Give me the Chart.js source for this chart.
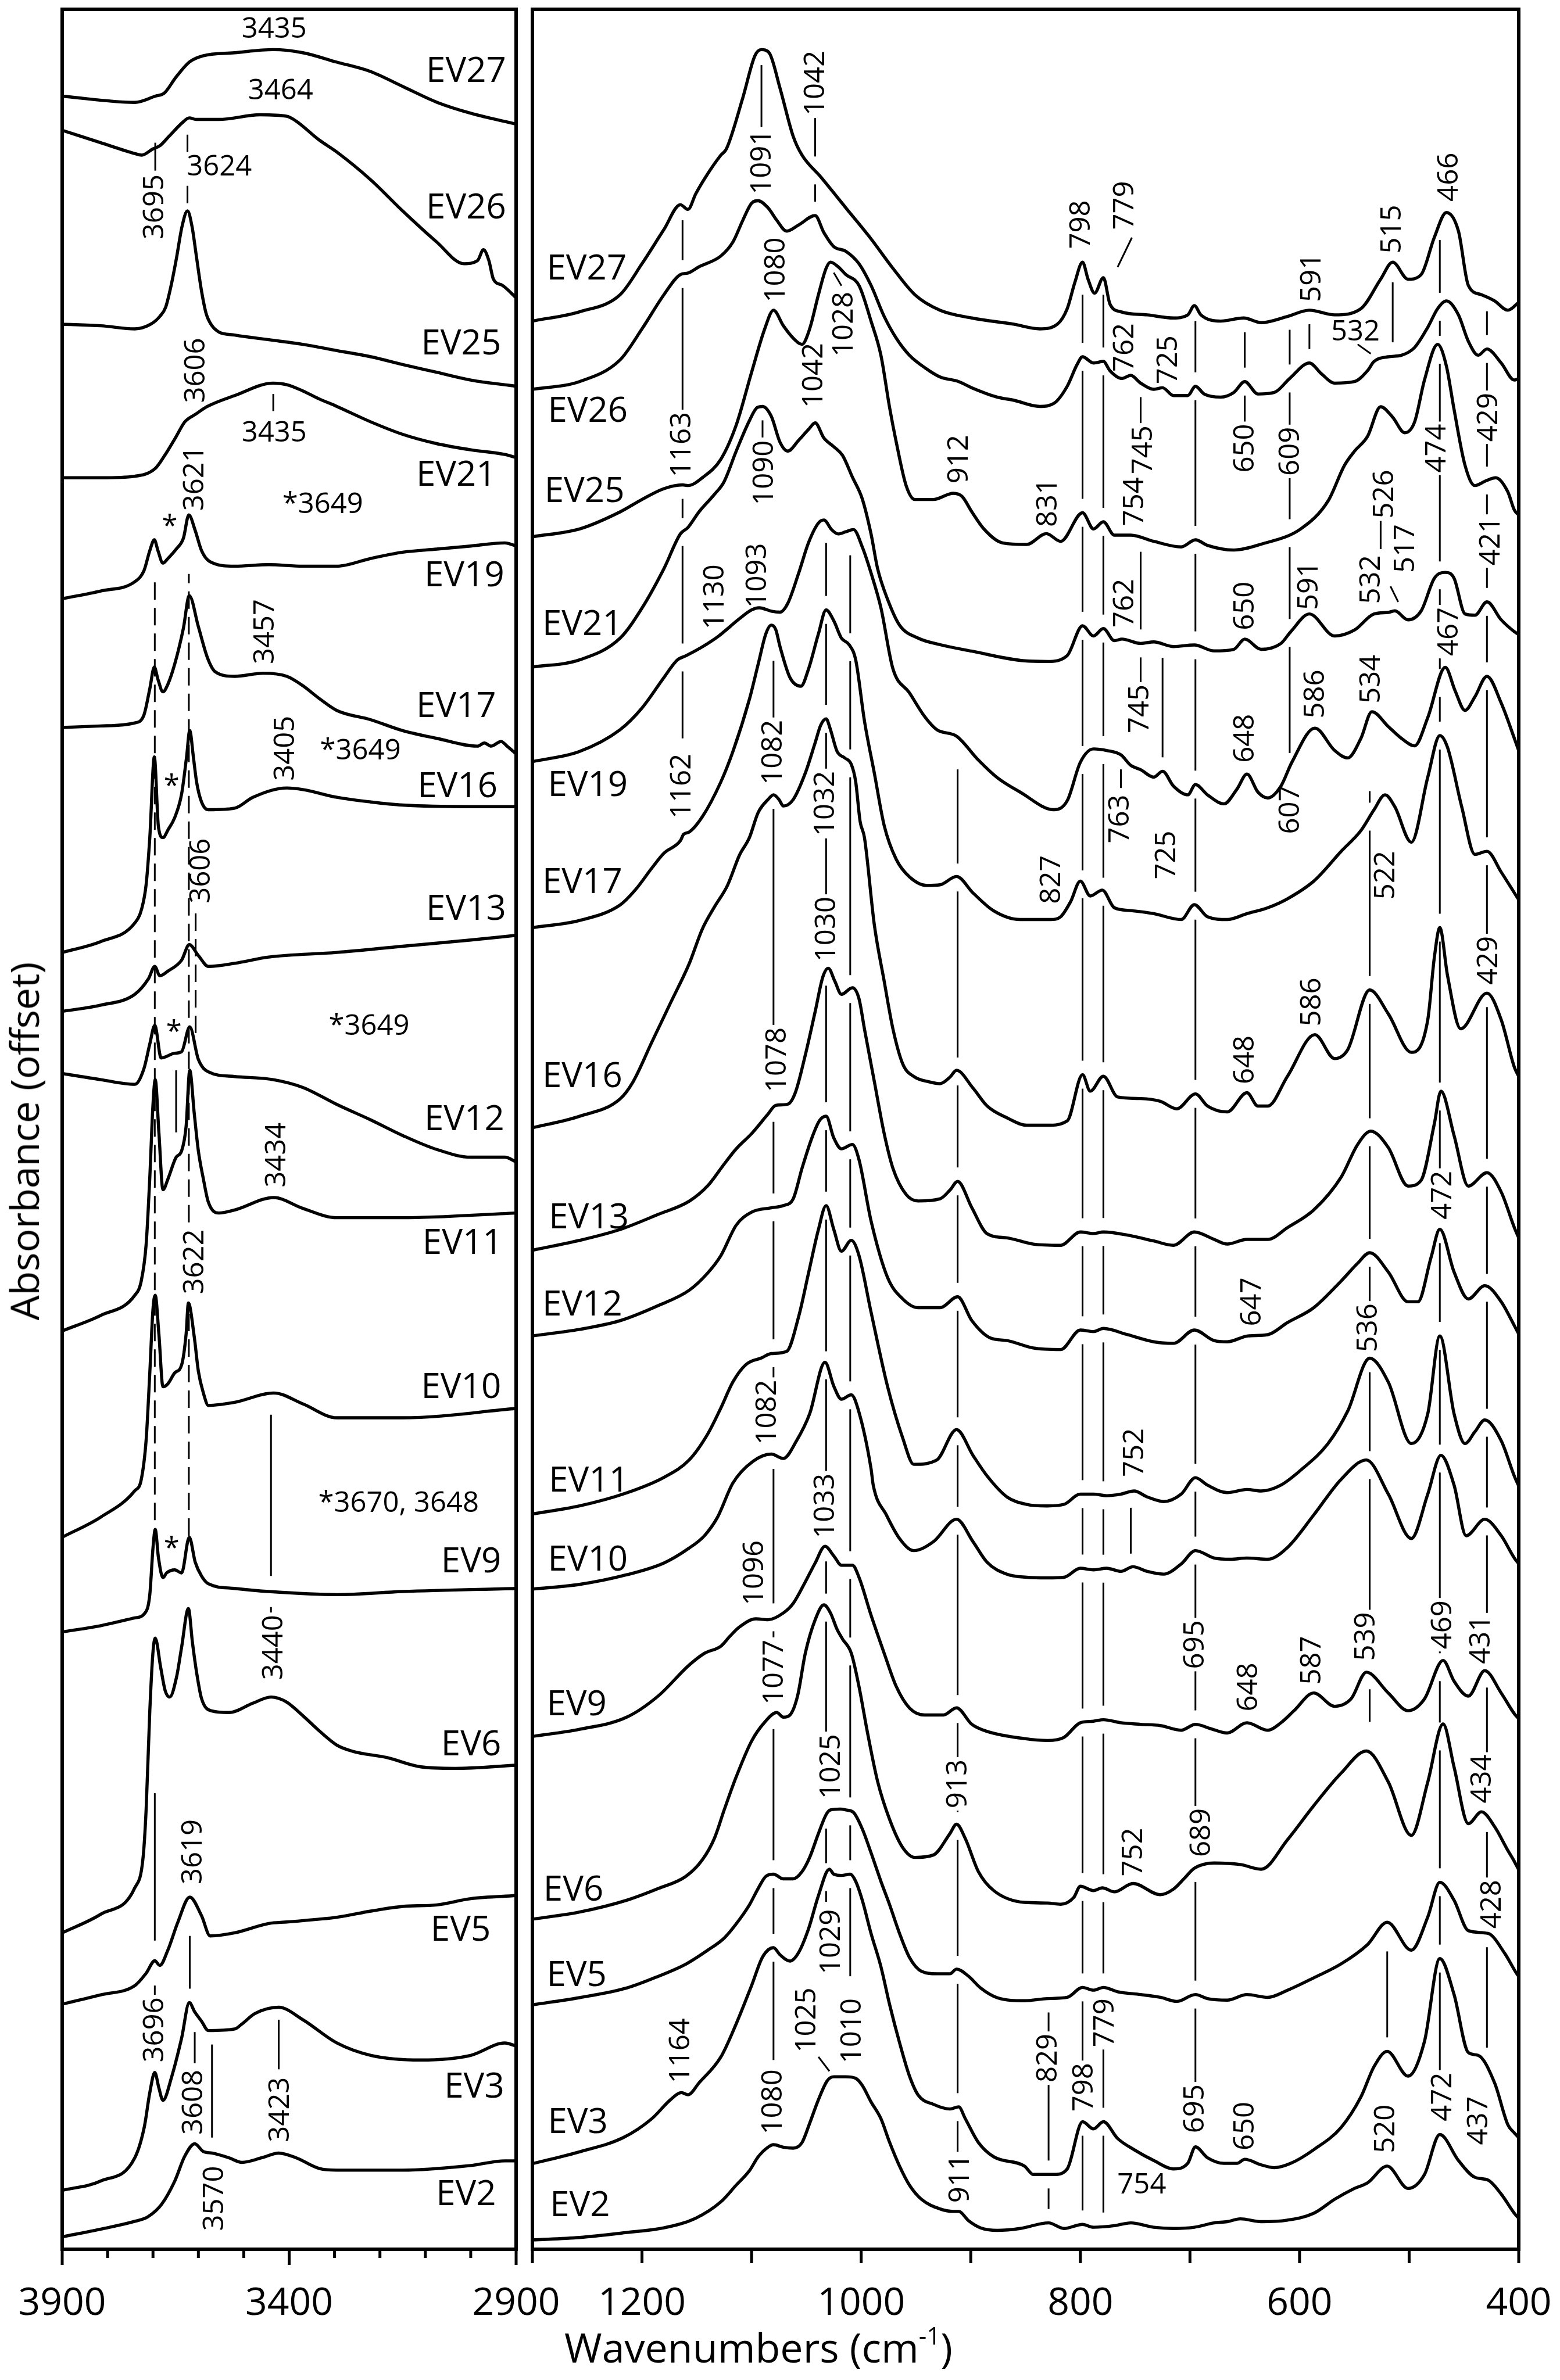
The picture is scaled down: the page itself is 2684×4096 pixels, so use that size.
<!DOCTYPE html>
<html>
<head>
<meta charset="utf-8">
<script src="https://cdn.jsdelivr.net/npm/chart.js@4.4.1/dist/chart.umd.min.js"></script>
<style>
  html, body { margin: 0; padding: 0; background: #fff; }
  #page { position: relative; width: 2684px; height: 4096px; overflow: hidden; background: #fff; }
  #page canvas { position: absolute; left: 0; top: 0; }
  .title { position: absolute; font-family: 'Open Sans', sans-serif; color: #000; white-space: nowrap; line-height: 1; }
  #ytitle { left: 41px; top: 1964px; font-size: 68px; transform: translate(-50%, -50%) rotate(-90deg); }
  #xtitle { left: 1305px; top: 4039px; font-size: 70px; transform: translate(-50%, -50%); }
  #xtitle sup { font-size: 0.6em; position: relative; top: -0.15em; vertical-align: super; line-height: 0; }
</style>
</head>
<body>
<div id="page">
  <canvas id="ohChart" width="2684" height="4096"></canvas>
  <canvas id="fpChart" width="2684" height="4096"></canvas>
  <div class="title" id="ytitle">Absorbance (offset)</div>
  <div class="title" id="xtitle">Wavenumbers (cm<sup>-1</sup>)</div>
</div>
<script>
// ---------- samples, top to bottom ----------
const samples = ['EV27','EV26','EV25','EV21','EV19','EV17','EV16','EV13','EV12','EV11','EV10','EV9','EV6','EV5','EV3','EV2'];

// ---------- OH-stretching region, 3900-2900 cm-1: [wavenumber, absorbance + offset] ----------
const EV27_oh = [[3900,6.94],[3740,6.92],[3695,6.94],[3675,6.95],[3650,7.00],[3620,7.05],[3590,7.07],[3520,7.08],[3435,7.09],[3370,7.08],[3296,7.05],[3222,7.02],[3148,6.97],[3074,6.92],[3000,6.885],[2900,6.85]];
const EV26_oh = [[3900,6.83],[3815,6.79],[3740,6.755],[3725,6.75],[3700,6.77],[3685,6.78],[3665,6.81],[3635,6.855],[3620,6.87],[3605,6.865],[3555,6.865],[3464,6.88],[3405,6.875],[3385,6.86],[3335,6.80],[3295,6.76],[3220,6.67],[3150,6.57],[3075,6.47],[3015,6.40],[2985,6.41],[2972,6.445],[2960,6.41],[2950,6.35],[2930,6.33],[2900,6.29]];
const EV25_oh = [[3900,6.205],[3815,6.20],[3740,6.19],[3705,6.205],[3685,6.23],[3672,6.26],[3660,6.33],[3648,6.42],[3636,6.52],[3624,6.57],[3614,6.52],[3604,6.42],[3594,6.32],[3583,6.24],[3570,6.20],[3555,6.18],[3520,6.17],[3445,6.155],[3370,6.14],[3295,6.12],[3220,6.10],[3150,6.075],[3075,6.05],[3000,6.025],[2900,6.005]];
const EV21_oh = [[3900,5.71],[3815,5.71],[3740,5.715],[3695,5.74],[3675,5.78],[3650,5.84],[3630,5.89],[3606,5.915],[3580,5.94],[3520,5.975],[3435,6.015],[3405,6.01],[3370,5.99],[3335,5.965],[3295,5.94],[3220,5.89],[3150,5.85],[3075,5.82],[3000,5.80],[2925,5.785],[2900,5.775]];
const EV19_oh = [[3900,5.32],[3815,5.345],[3740,5.375],[3720,5.41],[3707,5.475],[3697,5.51],[3689,5.475],[3678,5.435],[3667,5.45],[3649,5.48],[3633,5.515],[3621,5.59],[3607,5.54],[3593,5.475],[3575,5.44],[3520,5.425],[3445,5.43],[3370,5.425],[3295,5.425],[3220,5.45],[3150,5.47],[3075,5.48],[3000,5.49],[2925,5.50],[2900,5.49]];
const EV17_oh = [[3900,4.905],[3815,4.91],[3740,4.92],[3720,4.945],[3707,5.03],[3697,5.10],[3689,5.06],[3678,5.02],[3667,5.045],[3652,5.11],[3633,5.225],[3620,5.33],[3600,5.23],[3580,5.13],[3563,5.085],[3520,5.07],[3457,5.08],[3405,5.07],[3370,5.04],[3335,5.00],[3295,4.96],[3220,4.93],[3150,4.895],[3075,4.87],[2985,4.845],[2970,4.855],[2955,4.845],[2933,4.86],[2920,4.845],[2900,4.82]];
const EV16_oh = [[3900,4.18],[3815,4.215],[3740,4.275],[3725,4.32],[3715,4.40],[3707,4.55],[3697,4.81],[3688,4.585],[3678,4.55],[3667,4.575],[3652,4.615],[3637,4.69],[3626,4.81],[3619,4.895],[3611,4.81],[3604,4.73],[3593,4.665],[3578,4.64],[3520,4.645],[3480,4.68],[3405,4.71],[3370,4.705],[3295,4.68],[3220,4.665],[3150,4.655],[3000,4.65],[2900,4.65]];
const EV13_oh = [[3900,3.99],[3815,4.01],[3740,4.045],[3710,4.095],[3696,4.135],[3685,4.105],[3667,4.12],[3637,4.155],[3620,4.205],[3600,4.17],[3578,4.135],[3520,4.145],[3445,4.165],[3295,4.18],[3150,4.20],[3000,4.22],[2900,4.235]];
const EV12_oh = [[3900,3.79],[3815,3.77],[3740,3.755],[3720,3.805],[3707,3.885],[3696,3.945],[3682,3.84],[3652,3.855],[3637,3.86],[3619,3.94],[3600,3.835],[3578,3.795],[3520,3.78],[3435,3.77],[3370,3.745],[3295,3.69],[3220,3.64],[3150,3.59],[3075,3.545],[3000,3.52],[2925,3.52],[2900,3.505]];
const EV11_oh = [[3900,2.96],[3815,3.01],[3740,3.075],[3726,3.12],[3715,3.24],[3707,3.455],[3700,3.69],[3695,3.77],[3687,3.60],[3678,3.415],[3667,3.45],[3649,3.52],[3637,3.54],[3627,3.62],[3619,3.80],[3609,3.66],[3600,3.54],[3589,3.45],[3578,3.375],[3555,3.34],[3520,3.35],[3434,3.39],[3370,3.355],[3295,3.325],[3150,3.325],[2900,3.34]];
const EV10_oh = [[3900,2.295],[3815,2.36],[3740,2.445],[3726,2.48],[3715,2.61],[3707,2.825],[3700,3.03],[3695,3.075],[3687,2.95],[3678,2.78],[3667,2.79],[3652,2.825],[3637,2.85],[3627,2.95],[3622,3.05],[3609,2.94],[3600,2.83],[3589,2.76],[3578,2.72],[3520,2.73],[3434,2.76],[3370,2.725],[3295,2.68],[3150,2.68],[2900,2.71]];
const EV9_oh  = [[3900,1.99],[3815,2.01],[3740,2.035],[3718,2.05],[3707,2.11],[3700,2.26],[3695,2.32],[3688,2.23],[3678,2.165],[3670,2.18],[3652,2.19],[3637,2.18],[3620,2.295],[3607,2.215],[3593,2.17],[3578,2.145],[3520,2.13],[3445,2.12],[3295,2.11],[3150,2.12],[2900,2.13]];
const EV6_oh  = [[3900,1.02],[3815,1.08],[3740,1.165],[3722,1.26],[3715,1.42],[3707,1.735],[3700,1.925],[3695,1.97],[3683,1.875],[3673,1.80],[3663,1.78],[3648,1.845],[3637,1.94],[3622,2.065],[3613,1.955],[3604,1.86],[3593,1.775],[3570,1.735],[3533,1.73],[3480,1.76],[3440,1.78],[3407,1.765],[3370,1.72],[3333,1.67],[3295,1.625],[3260,1.605],[3185,1.585],[3110,1.555],[3035,1.55],[2900,1.56]];
const EV5_oh  = [[3900,0.79],[3815,0.82],[3740,0.85],[3715,0.89],[3696,0.93],[3685,0.915],[3667,0.965],[3645,1.055],[3619,1.135],[3593,1.075],[3574,1.01],[3520,1.02],[3445,1.05],[3405,1.055],[3295,1.07],[3220,1.09],[3150,1.105],[3075,1.11],[3000,1.13],[2900,1.14]];
const EV3_oh  = [[3900,0.19],[3815,0.22],[3740,0.295],[3719,0.395],[3707,0.505],[3696,0.57],[3687,0.52],[3678,0.48],[3659,0.555],[3637,0.68],[3620,0.795],[3608,0.765],[3593,0.735],[3578,0.705],[3520,0.71],[3505,0.725],[3475,0.76],[3423,0.78],[3370,0.74],[3295,0.665],[3220,0.625],[3110,0.61],[3000,0.625],[2925,0.665],[2900,0.655]];
const EV2_oh  = [[3900,0.04],[3815,0.065],[3740,0.09],[3711,0.105],[3681,0.145],[3652,0.22],[3630,0.30],[3608,0.34],[3589,0.315],[3570,0.31],[3533,0.295],[3504,0.28],[3460,0.295],[3423,0.31],[3385,0.295],[3333,0.26],[3295,0.255],[3150,0.255],[3000,0.27],[2925,0.285],[2900,0.285]];

// ---------- lattice / fingerprint region, 1300-400 cm-1 ----------
const EV27_fp = [[1300,6.215],[1257,6.245],[1220,6.30],[1200,6.40],[1180,6.51],[1165,6.59],[1158,6.575],[1151,6.625],[1140,6.69],[1128,6.75],[1123,6.77],[1108,6.935],[1097,7.07],[1091,7.09],[1084,7.08],[1074,6.965],[1062,6.81],[1054,6.75],[1037,6.68],[1014,6.58],[991,6.48],[971,6.385],[951,6.30],[928,6.25],[899,6.225],[861,6.205],[837,6.19],[821,6.205],[812,6.255],[805,6.34],[798,6.405],[793,6.35],[787,6.305],[779,6.355],[773,6.27],[763,6.245],[739,6.235],[715,6.225],[702,6.235],[696,6.265],[690,6.235],[672,6.215],[651,6.225],[635,6.21],[611,6.23],[591,6.25],[568,6.235],[544,6.255],[526,6.35],[515,6.405],[501,6.35],[489,6.365],[477,6.485],[466,6.565],[455,6.505],[446,6.33],[434,6.30],[422,6.28],[410,6.25],[400,6.275]];
const EV26_fp = [[1300,5.995],[1257,6.02],[1220,6.09],[1200,6.19],[1180,6.30],[1165,6.365],[1158,6.37],[1148,6.39],[1128,6.425],[1117,6.47],[1108,6.54],[1100,6.595],[1094,6.603],[1085,6.58],[1077,6.54],[1068,6.505],[1057,6.525],[1042,6.555],[1034,6.50],[1025,6.455],[1014,6.44],[1002,6.40],[991,6.33],[979,6.23],[968,6.16],[956,6.105],[942,6.065],[928,6.035],[911,6.02],[899,6.0],[876,5.97],[861,5.96],[837,5.94],[824,5.95],[812,6.005],[803,6.075],[798,6.10],[788,6.08],[779,6.085],[773,6.055],[762,6.03],[754,6.04],[745,6.015],[733,5.995],[725,6.0],[715,5.975],[702,5.975],[695,6.005],[687,5.98],[672,5.97],[660,5.985],[650,6.02],[638,5.98],[623,5.985],[609,6.03],[591,6.08],[580,6.045],[568,6.015],[550,6.02],[538,6.055],[532,6.085],[519,6.10],[507,6.105],[495,6.13],[483,6.195],[474,6.255],[466,6.28],[455,6.235],[446,6.15],[437,6.105],[429,6.125],[416,6.08],[404,6.025],[400,6.03]];
const EV25_fp = [[1300,5.52],[1257,5.545],[1220,5.60],[1200,5.64],[1180,5.675],[1163,5.687],[1158,5.685],[1145,5.71],[1128,5.77],[1114,5.88],[1100,6.05],[1088,6.19],[1080,6.25],[1071,6.20],[1062,6.16],[1054,6.14],[1047,6.19],[1039,6.30],[1032,6.385],[1028,6.405],[1021,6.39],[1014,6.365],[1002,6.33],[991,6.215],[982,6.105],[974,5.935],[968,5.825],[959,5.685],[951,5.64],[934,5.64],[916,5.66],[908,5.65],[899,5.60],[888,5.545],[871,5.50],[849,5.495],[831,5.53],[818,5.505],[798,5.597],[788,5.545],[779,5.568],[769,5.525],[754,5.525],[733,5.505],[708,5.487],[695,5.51],[684,5.492],[660,5.477],[635,5.496],[599,5.545],[574,5.635],[559,5.75],[550,5.795],[538,5.843],[526,5.939],[515,5.905],[504,5.855],[495,5.89],[486,6.025],[474,6.14],[466,6.07],[459,5.93],[449,5.75],[440,5.685],[430,5.70],[421,5.71],[410,5.665],[404,5.606],[400,5.59]];
const EV21_fp = [[1300,5.10],[1257,5.123],[1220,5.193],[1200,5.29],[1180,5.417],[1165,5.529],[1158,5.55],[1148,5.60],[1134,5.656],[1125,5.698],[1114,5.796],[1102,5.894],[1095,5.936],[1090,5.94],[1082,5.908],[1074,5.824],[1067,5.796],[1057,5.831],[1048,5.866],[1042,5.887],[1034,5.838],[1025,5.81],[1017,5.782],[1008,5.712],[999,5.642],[991,5.529],[985,5.417],[976,5.319],[965,5.235],[948,5.193],[928,5.172],[899,5.151],[851,5.12],[830,5.118],[812,5.137],[798,5.233],[788,5.20],[779,5.224],[769,5.185],[762,5.19],[745,5.176],[733,5.181],[715,5.166],[696,5.171],[678,5.152],[660,5.157],[650,5.19],[635,5.157],[617,5.176],[608,5.214],[591,5.271],[568,5.20],[550,5.219],[532,5.271],[519,5.276],[513,5.281],[501,5.252],[489,5.281],[477,5.386],[467,5.405],[459,5.386],[449,5.271],[440,5.267],[429,5.31],[416,5.252],[404,5.214],[400,5.205]];
const EV19_fp = [[1300,4.795],[1257,4.828],[1220,4.898],[1200,4.968],[1180,5.066],[1168,5.122],[1160,5.136],[1145,5.165],[1130,5.20],[1111,5.256],[1100,5.284],[1093,5.291],[1082,5.28],[1074,5.277],[1067,5.305],[1057,5.403],[1048,5.501],[1039,5.564],[1034,5.574],[1027,5.543],[1021,5.529],[1014,5.536],[1007,5.543],[999,5.487],[991,5.403],[982,5.291],[971,5.094],[956,5.017],[942,4.94],[931,4.898],[913,4.877],[893,4.80],[876,4.744],[855,4.697],[824,4.64],[812,4.669],[800,4.793],[788,4.836],[776,4.831],[763,4.817],[754,4.783],[745,4.769],[733,4.745],[725,4.764],[715,4.716],[702,4.688],[695,4.721],[684,4.688],[669,4.659],[657,4.707],[648,4.755],[638,4.697],[629,4.678],[617,4.716],[607,4.793],[586,4.903],[568,4.831],[556,4.807],[544,4.87],[534,4.956],[519,4.908],[507,4.87],[495,4.846],[483,4.937],[467,5.099],[458,5.023],[449,4.96],[440,5.004],[429,5.07],[416,4.984],[404,4.87],[400,4.83]];
const EV17_fp = [[1300,4.26],[1257,4.283],[1220,4.333],[1206,4.382],[1191,4.452],[1180,4.50],[1165,4.54],[1162,4.561],[1157,4.568],[1145,4.617],[1128,4.73],[1117,4.828],[1102,4.996],[1094,5.109],[1087,5.207],[1082,5.235],[1078,5.221],[1074,5.165],[1065,5.066],[1055,5.038],[1048,5.094],[1039,5.207],[1032,5.284],[1025,5.249],[1018,5.193],[1011,5.172],[1005,5.123],[997,4.926],[988,4.758],[979,4.589],[968,4.48],[956,4.424],[940,4.396],[928,4.398],[913,4.425],[898,4.372],[879,4.314],[855,4.286],[827,4.286],[818,4.295],[809,4.343],[800,4.41],[791,4.362],[780,4.381],[769,4.324],[754,4.315],[733,4.305],[708,4.286],[696,4.334],[684,4.295],[666,4.286],[648,4.305],[629,4.324],[611,4.353],[587,4.41],[562,4.506],[544,4.573],[532,4.64],[522,4.688],[513,4.649],[498,4.535],[483,4.745],[472,4.879],[465,4.841],[452,4.649],[440,4.496],[429,4.506],[416,4.439],[404,4.372],[400,4.35]];
const EV16_fp = [[1300,3.615],[1257,3.652],[1220,3.708],[1208,3.764],[1191,3.891],[1174,4.017],[1157,4.143],[1145,4.255],[1134,4.326],[1122,4.396],[1111,4.494],[1102,4.55],[1094,4.631],[1085,4.673],[1080,4.688],[1075,4.673],[1071,4.652],[1062,4.673],[1051,4.758],[1042,4.856],[1037,4.912],[1032,4.933],[1028,4.898],[1022,4.828],[1015,4.807],[1009,4.786],[1005,4.73],[1001,4.603],[997,4.55],[988,4.269],[979,4.087],[971,3.933],[962,3.82],[951,3.778],[939,3.764],[928,3.757],[919,3.778],[913,3.80],[898,3.743],[885,3.685],[867,3.647],[849,3.623],[830,3.623],[812,3.637],[798,3.786],[791,3.733],[779,3.781],[766,3.714],[745,3.709],[727,3.70],[712,3.676],[695,3.724],[684,3.685],[666,3.666],[648,3.728],[638,3.685],[629,3.685],[611,3.781],[586,3.915],[568,3.838],[556,3.867],[536,4.059],[519,3.982],[498,3.858],[483,3.963],[477,4.164],[472,4.26],[465,4.106],[453,3.934],[429,4.049],[416,3.963],[404,3.81],[400,3.78]];
const EV13_fp = [[1300,3.22],[1257,3.252],[1220,3.287],[1185,3.336],[1157,3.378],[1140,3.428],[1125,3.498],[1114,3.547],[1100,3.596],[1085,3.659],[1078,3.687],[1067,3.691],[1060,3.729],[1051,3.849],[1042,3.989],[1035,4.101],[1030,4.129],[1024,4.087],[1018,4.045],[1008,4.066],[1002,4.031],[997,3.933],[988,3.764],[979,3.596],[971,3.484],[959,3.40],[948,3.379],[928,3.386],[919,3.414],[912,3.442],[899,3.357],[885,3.273],[867,3.26],[843,3.24],[818,3.236],[800,3.279],[788,3.274],[779,3.279],[757,3.269],[733,3.25],[715,3.236],[696,3.279],[678,3.255],[666,3.24],[648,3.255],[629,3.255],[611,3.293],[587,3.35],[562,3.456],[547,3.561],[535,3.604],[519,3.551],[501,3.427],[489,3.446],[477,3.628],[471,3.733],[459,3.59],[446,3.427],[429,3.47],[416,3.408],[404,3.293],[400,3.26]];
const EV12_fp = [[1300,2.944],[1257,2.965],[1220,2.993],[1185,3.042],[1157,3.091],[1140,3.147],[1128,3.203],[1114,3.301],[1100,3.343],[1082,3.357],[1071,3.364],[1062,3.386],[1054,3.484],[1045,3.582],[1038,3.638],[1032,3.652],[1025,3.582],[1018,3.547],[1008,3.561],[1002,3.512],[991,3.315],[976,3.133],[962,3.063],[948,3.035],[928,3.035],[912,3.07],[899,2.993],[882,2.937],[867,2.929],[843,2.905],[818,2.90],[800,2.963],[788,2.958],[779,2.968],[757,2.948],[733,2.925],[715,2.92],[696,2.963],[678,2.929],[666,2.925],[647,2.944],[629,2.948],[611,2.987],[587,3.035],[562,3.121],[547,3.178],[536,3.212],[519,3.15],[501,3.054],[492,3.054],[480,3.197],[472,3.288],[459,3.15],[446,3.063],[431,3.106],[416,3.054],[404,2.977],[400,2.95]];
const EV11_fp = [[1300,2.37],[1257,2.396],[1214,2.438],[1180,2.488],[1157,2.544],[1140,2.628],[1128,2.712],[1117,2.796],[1105,2.852],[1091,2.873],[1082,2.887],[1068,2.894],[1057,3.007],[1048,3.147],[1039,3.287],[1032,3.364],[1025,3.287],[1018,3.217],[1009,3.252],[1002,3.203],[991,3.021],[976,2.782],[962,2.614],[952,2.53],[931,2.544],[913,2.642],[898,2.559],[885,2.492],[867,2.425],[849,2.401],[830,2.396],[815,2.401],[800,2.434],[788,2.434],[776,2.429],[763,2.434],[751,2.444],[739,2.425],[724,2.41],[708,2.434],[695,2.487],[684,2.463],[666,2.439],[648,2.449],[635,2.444],[617,2.463],[599,2.511],[574,2.597],[556,2.702],[536,2.872],[519,2.795],[498,2.597],[483,2.693],[472,2.944],[459,2.693],[449,2.597],[440,2.635],[431,2.673],[416,2.606],[404,2.492],[400,2.46]];
const EV10_fp = [[1300,2.128],[1257,2.143],[1214,2.174],[1180,2.212],[1157,2.26],[1143,2.30],[1131,2.36],[1117,2.47],[1099,2.539],[1082,2.563],[1071,2.549],[1059,2.606],[1047,2.693],[1033,2.859],[1025,2.782],[1018,2.74],[1009,2.754],[1002,2.698],[991,2.516],[989,2.463],[977,2.367],[965,2.291],[952,2.252],[934,2.281],[913,2.353],[898,2.281],[885,2.214],[867,2.176],[849,2.166],[830,2.164],[815,2.166],[800,2.195],[788,2.19],[776,2.195],[763,2.185],[752,2.20],[739,2.185],[724,2.176],[708,2.209],[695,2.252],[678,2.228],[663,2.224],[648,2.228],[629,2.224],[611,2.262],[587,2.367],[562,2.482],[539,2.544],[519,2.434],[498,2.291],[483,2.434],[471,2.559],[459,2.463],[448,2.30],[431,2.353],[416,2.30],[404,2.228],[400,2.21]];
const EV9_fp  = [[1300,1.653],[1257,1.676],[1214,1.715],[1185,1.784],[1157,1.883],[1143,1.921],[1128,1.944],[1120,1.975],[1111,2.006],[1096,2.032],[1085,2.029],[1071,2.051],[1062,2.082],[1051,2.151],[1042,2.212],[1033,2.266],[1025,2.235],[1018,2.205],[1008,2.205],[1002,2.166],[991,2.044],[979,1.921],[968,1.814],[956,1.745],[942,1.722],[925,1.722],[913,1.745],[899,1.692],[885,1.669],[851,1.646],[830,1.64],[815,1.65],[800,1.697],[788,1.702],[779,1.707],[763,1.697],[745,1.692],[727,1.688],[708,1.673],[695,1.692],[681,1.678],[666,1.664],[648,1.697],[629,1.673],[617,1.697],[605,1.736],[587,1.793],[568,1.75],[553,1.774],[539,1.86],[519,1.793],[501,1.736],[486,1.774],[469,1.898],[459,1.831],[446,1.783],[431,1.865],[416,1.793],[404,1.726],[400,1.71]];
const EV6_fp  = [[1300,1.064],[1257,1.087],[1214,1.125],[1185,1.163],[1160,1.202],[1145,1.255],[1134,1.324],[1125,1.416],[1114,1.523],[1100,1.638],[1088,1.699],[1077,1.73],[1071,1.715],[1065,1.722],[1058,1.784],[1051,1.921],[1042,2.029],[1034,2.077],[1028,2.051],[1022,1.998],[1017,1.967],[1009,1.921],[1002,1.814],[994,1.661],[985,1.508],[974,1.385],[962,1.294],[951,1.263],[934,1.271],[919,1.34],[913,1.37],[905,1.324],[893,1.217],[879,1.156],[851,1.118],[830,1.116],[818,1.112],[806,1.134],[800,1.17],[788,1.156],[780,1.165],[769,1.152],[752,1.179],[727,1.143],[715,1.161],[705,1.196],[696,1.228],[678,1.245],[654,1.24],[635,1.225],[611,1.32],[587,1.43],[562,1.535],[539,1.606],[519,1.506],[498,1.334],[483,1.506],[469,1.693],[459,1.554],[446,1.372],[434,1.41],[422,1.362],[410,1.286],[404,1.25],[400,1.223]];
const EV5_fp  = [[1300,0.788],[1257,0.811],[1214,0.842],[1185,0.88],[1160,0.919],[1140,0.964],[1125,1.003],[1114,1.049],[1102,1.11],[1094,1.163],[1087,1.202],[1080,1.209],[1071,1.194],[1062,1.194],[1054,1.217],[1047,1.263],[1039,1.34],[1032,1.401],[1028,1.416],[1019,1.419],[1014,1.416],[1007,1.408],[999,1.355],[991,1.278],[982,1.186],[974,1.11],[965,1.018],[956,0.941],[945,0.896],[931,0.888],[919,0.888],[913,0.903],[902,0.88],[891,0.842],[876,0.811],[851,0.801],[830,0.808],[812,0.812],[798,0.844],[788,0.835],[779,0.844],[766,0.83],[745,0.821],[727,0.812],[712,0.799],[695,0.821],[684,0.808],[666,0.803],[648,0.821],[629,0.812],[611,0.835],[587,0.875],[562,0.92],[538,0.982],[520,1.054],[498,0.964],[483,1.071],[472,1.183],[459,1.125],[446,1.027],[428,1.018],[413,0.955],[401,0.884],[400,0.88]];
const EV3_fp  = [[1300,0.276],[1257,0.314],[1217,0.36],[1191,0.421],[1174,0.482],[1164,0.505],[1158,0.498],[1148,0.536],[1128,0.62],[1114,0.727],[1100,0.85],[1090,0.942],[1080,0.972],[1074,0.949],[1065,0.929],[1057,0.957],[1048,1.033],[1039,1.14],[1029,1.225],[1025,1.209],[1018,1.205],[1010,1.209],[1005,1.186],[999,1.125],[991,1.018],[982,0.911],[974,0.788],[965,0.666],[956,0.559],[948,0.497],[934,0.467],[919,0.452],[911,0.459],[905,0.421],[893,0.344],[879,0.298],[851,0.268],[843,0.241],[824,0.241],[812,0.259],[798,0.411],[788,0.388],[779,0.411],[766,0.357],[751,0.321],[733,0.286],[715,0.259],[702,0.277],[695,0.33],[684,0.295],[669,0.277],[657,0.277],[650,0.29],[635,0.272],[623,0.263],[608,0.277],[587,0.321],[562,0.393],[544,0.491],[532,0.589],[520,0.638],[501,0.558],[486,0.67],[472,0.937],[459,0.821],[446,0.634],[437,0.625],[422,0.536],[410,0.402],[404,0.375],[400,0.36]];
const EV2_fp  = [[1300,0.03],[1257,0.038],[1214,0.054],[1180,0.069],[1151,0.10],[1128,0.153],[1114,0.207],[1102,0.253],[1094,0.298],[1085,0.329],[1080,0.337],[1071,0.329],[1062,0.326],[1054,0.344],[1047,0.406],[1039,0.482],[1031,0.543],[1025,0.556],[1014,0.556],[1005,0.551],[999,0.528],[991,0.475],[982,0.421],[974,0.344],[965,0.268],[956,0.207],[945,0.161],[928,0.13],[916,0.122],[911,0.122],[902,0.092],[891,0.069],[876,0.061],[855,0.067],[829,0.085],[815,0.067],[798,0.08],[788,0.071],[769,0.076],[754,0.085],[733,0.071],[715,0.067],[696,0.071],[678,0.085],[666,0.089],[654,0.098],[635,0.089],[611,0.094],[587,0.116],[568,0.161],[550,0.196],[538,0.214],[520,0.268],[501,0.196],[486,0.241],[472,0.37],[455,0.286],[440,0.232],[428,0.223],[416,0.178],[404,0.116],[400,0.10]];

// ---------- axes ----------
const ohRange = [2900, 3900];
const fpRange = [400, 1300];
const absRange = [0, 7.22];
const ohTicks = [3900, 3800, 3700, 3600, 3500, 3400, 3300, 3200, 3100, 3000, 2900];
const ohMajorTicks = [3900, 3400, 2900];
const ohTickLabels = [3900, 3400, 2900];
const fpTicks = [1300, 1200, 1100, 1000, 900, 800, 700, 600, 500, 400];
const fpTickLabels = [1200, 1000, 800, 600, 400];

// ---------- sample name anchors [wavenumber, absorbance] ----------
const ohNameAnchors = [[2922,7.018],[2922,6.578],[2933,6.139],[2944,5.716],[2926,5.393],[2944,4.97],[2941,4.713],[2922,4.318],[2926,3.639],[2930,3.241],[2933,2.776],[2933,2.213],[2933,1.624],[2956,1.026],[2926,0.521],[2944,0.175]];
const fpNameAnchors = [[1287,6.382],[1286,5.922],[1289,5.663],[1291,5.235],[1286,4.716],[1291,4.403],[1291,3.778],[1285,3.322],[1291,3.042],[1285,2.474],[1286,2.22],[1287,1.753],[1290,1.156],[1287,0.88],[1286,0.406],[1284,0.138]];

// ---------- band assignments: [text, wavenumber, absorbance, vertical] ----------
const ohBandLabels = [
  ['3435',3433,7.155,0],['3464',3419,6.955,0],['3695',3695,6.583,1],['3624',3554,6.711,0],
  ['3606',3604,6.056,1],['3435',3433,5.852,0],['3621',3607,5.708,1],['*3649',3326,5.622,0],
  ['*',3663,5.55,0],['3457',3452,5.214,1],['3405',3407,4.838,1],['*3649',3243,4.829,0],
  ['*',3659,4.713,0],['3606',3593,4.443,1],['*3649',3224,3.94,0],['*',3654,3.92,0],
  ['3434',3426,3.527,1],['3622',3607,3.183,1],['*3670, 3648',3159,2.403,0],['*',3659,2.254,0],
  ['3440',3433,1.94,1],['3619',3611,1.281,1],['3696',3695,0.707,1],['3608',3609,0.474,1],
  ['3570',3563,0.164,1],['3423',3419,0.45,1]
];
const fpBandLabels = [
  ['1091',1090,6.728,1],['1042',1041,6.982,1],['1080',1077,6.38,1],['1028',1015,6.205,1],
  ['798',799,6.526,1],['779',759,6.588,1],['591',588,6.355,1],['515',515,6.511,1],
  ['466',463,6.679,1],['762',759,6.13,1],['725',719,6.09,1],['532',549,6.178,0],
  ['429',427,5.905,1],['1163',1163,5.817,1],['1090',1088,5.726,1],['1042',1043,6.04,1],
  ['912',910,5.77,1],['745',742,5.80,1],['650',649,5.805,1],['609',608,5.795,1],
  ['474',474,5.805,1],['831',829,5.63,1],['754',750,5.633,1],['526',522,5.657,1],
  ['421',425,5.506,1],['1130',1133,5.326,1],['1093',1094,5.395,1],['762',759,5.306,1],
  ['650',649,5.297,1],['591',591,5.362,1],['532',534,5.382,1],['517',503,5.482,1],
  ['467',463,5.214,1],['745',745,4.965,1],['725',721,4.494,1],['607',608,4.64,1],
  ['763',763,4.61,1],['648',649,4.87,1],['586',585,5.013,1],['534',534,5.061,1],
  ['522',521,4.429,1],['827',826,4.415,1],['1162',1163,4.716,1],['1082',1080,4.825,1],
  ['1032',1032,4.66,1],['648',649,3.834,1],['586',588,4.02,1],['429',427,4.154,1],
  ['1078',1076,3.834,1],['1030',1031,4.255,1],['472',469,3.398,1],['647',643,3.054,1],
  ['536',537,2.97,1],['1082',1085,2.698,1],['1033',1032,2.396,1],['752',750,2.568,1],
  ['1096',1097,2.18,1],['695',695,1.949,1],['539',539,1.975,1],['469',469,2.013,1],
  ['431',434,1.965,1],['587',588,1.898,1],['648',646,1.812,1],['1077',1079,1.86,1],
  ['1025',1027,1.556,1],['913',911,1.50,1],['434',433,1.516,1],['752',751,1.28,1],
  ['689',689,1.343,1],['428',424,1.112,1],['1029',1027,0.991,1],['1025',1049,0.739,1],
  ['1010',1008,0.704,1],['1164',1164,0.64,1],['1080',1080,0.475,1],['829',829,0.616,1],
  ['798',796,0.522,1],['779',777,0.73,1],['695',695,0.453,1],['650',649,0.397,1],
  ['520',521,0.388,1],['472',469,0.491,1],['437',436,0.415,1],['911',909,0.228,1],
  ['754',744,0.205,0]
];

// ---------- marker lines ----------
// OH region: [wavenumber, from, to, dashed]
const ohMarkers = [
  [3695,6.70,6.79,0],[3624,6.595,6.83,1],[3435,5.925,5.98,0],[3696,2.35,5.38,1],
  [3621,3.31,5.40,1],[3621,2.30,3.05,1],[3606,3.92,4.32,1],[3649,3.60,3.80,0],
  [3440,2.17,2.69,0],[3440,2.035,2.07,0],[3696,0.995,1.47,0],[3696,0.82,0.85,0],
  [3619,0.84,1.01,0],[3608,0.60,0.70,0],[3570,0.36,0.66,0],[3423,0.58,0.74,0]
];
// fingerprint region: [wavenumber, upper limit, lower limit], broken wherever a spectrum crosses
const fpMarkers = [
  [1163,6.54,4.87],[1091,7.04,6.84],[1042,6.87,6.57],[1090,5.91,5.84],[1080,5.12,0.61],
  [1032,5.50,1.12],[1010,5.46,0.88],[912,4.77,0.28],[829,0.79,0.10],[798,6.30,0.10],
  [779,6.30,0.10],[754,2.39,2.21],[754,0.16,0.107],[745,5.99,5.05],[725,5.14,4.78],
  [763,4.77,4.71],[695,6.22,0.33],[650,6.19,5.89],[609,6.20,4.79],[591,6.25,6.10],
  [526,5.59,5.48],[515,6.34,6.14],[536,4.70,1.70],[520,0.96,0.67],[472,6.48,0.45],
  [429,6.25,0.65]
];
// short slanted leaders: [wn1, a1, wn2, a2]
const fpLeaders = [[766,6.389,753,6.484],[547,6.14,535,6.11],[1025,6.371,1018,6.329],[1039,0.62,1029,0.574],[517,5.36,510,5.31]];

const ohSpectra = [EV27_oh, EV26_oh, EV25_oh, EV21_oh, EV19_oh, EV17_oh, EV16_oh, EV13_oh, EV12_oh, EV11_oh, EV10_oh, EV9_oh, EV6_oh, EV5_oh, EV3_oh, EV2_oh];
const fpSpectra = [EV27_fp, EV26_fp, EV25_fp, EV21_fp, EV19_fp, EV17_fp, EV16_fp, EV13_fp, EV12_fp, EV11_fp, EV10_fp, EV9_fp, EV6_fp, EV5_fp, EV3_fp, EV2_fp];

// ---------- drawing ----------
const FONT = "'Open Sans', sans-serif";
const BAND_PX = 49, NAME_PX = 60, TICK_PX = 66;
const LINE_W = 5.4, FRAME_W = 6, MARK_W = 3, TICK_W = 5;
const GAP = 0.045;

function valueAt(series, wn) {
  for (let i = 0; i < series.length - 1; i++) {
    const [x1, y1] = series[i], [x2, y2] = series[i + 1];
    if ((wn - x1) * (wn - x2) <= 0 && x1 !== x2) return y1 + (y2 - y1) * (wn - x1) / (x2 - x1);
  }
  return null;
}

function decorPlugin(opt) {
  return {
    id: 'decor',
    beforeDatasetsDraw(chart) {
      const { ctx, chartArea: ca } = chart;
      const X = v => chart.scales.x.getPixelForValue(v);
      const Y = v => chart.scales.y.getPixelForValue(v);
      ctx.save();
      ctx.beginPath();
      ctx.rect(ca.left, ca.top, ca.right - ca.left, ca.bottom - ca.top);
      ctx.clip();
      ctx.strokeStyle = '#000';
      ctx.lineWidth = MARK_W;
      ctx.lineCap = 'butt';
      (opt.markers || []).forEach(([wn, a, b, dashed]) => {
        ctx.setLineDash(dashed ? [30, 14] : []);
        ctx.beginPath(); ctx.moveTo(X(wn), Y(a)); ctx.lineTo(X(wn), Y(b)); ctx.stroke();
      });
      ctx.setLineDash([]);
      (opt.brokenMarkers || []).forEach(([wn, top, bottom]) => {
        const levels = opt.spectra.map(s => valueAt(s, wn)).filter(v => v !== null).sort((p, q) => p - q);
        const edges = [-Infinity, ...levels, Infinity];
        for (let i = 0; i < edges.length - 1; i++) {
          const lo = Math.max(edges[i] + GAP, bottom);
          const hi = Math.min(edges[i + 1] - GAP, top);
          if (hi - lo > 0.03) {
            ctx.beginPath(); ctx.moveTo(X(wn), Y(hi)); ctx.lineTo(X(wn), Y(lo)); ctx.stroke();
          }
        }
      });
      (opt.leaders || []).forEach(([w1, a1, w2, a2]) => {
        ctx.beginPath(); ctx.moveTo(X(w1), Y(a1)); ctx.lineTo(X(w2), Y(a2)); ctx.stroke();
      });
      // clear the marker lines behind each band label
      ctx.fillStyle = '#fff';
      ctx.font = BAND_PX + 'px ' + FONT;
      opt.bands.forEach(([t, wn, a, vert]) => {
        const w = ctx.measureText(t).width + 8, h = BAND_PX * 0.8;
        const cx = X(wn), cy = Y(a);
        if (vert) ctx.fillRect(cx - h / 2, cy - w / 2, h, w);
        else ctx.fillRect(cx - w / 2, cy - h / 2, w, h);
      });
      ctx.restore();
    },
    afterDatasetsDraw(chart) {
      const { ctx, chartArea: ca } = chart;
      const X = v => chart.scales.x.getPixelForValue(v);
      const Y = v => chart.scales.y.getPixelForValue(v);
      ctx.save();
      ctx.fillStyle = '#000';
      ctx.textBaseline = 'middle';
      // band labels
      ctx.font = BAND_PX + 'px ' + FONT;
      ctx.textAlign = 'center';
      opt.bands.forEach(([t, wn, a, vert]) => {
        if (vert) {
          ctx.save(); ctx.translate(X(wn), Y(a)); ctx.rotate(-Math.PI / 2);
          ctx.fillText(t, 0, 0); ctx.restore();
        } else {
          ctx.fillText(t, X(wn), Y(a));
        }
      });
      // sample names
      ctx.font = NAME_PX + 'px ' + FONT;
      ctx.textAlign = opt.nameAlign;
      samples.forEach((name, i) => {
        const [wn, a] = opt.names[i];
        ctx.fillText(name, X(wn), Y(a));
      });
      // frame
      ctx.strokeStyle = '#000';
      ctx.lineWidth = FRAME_W;
      ctx.strokeRect(ca.left, ca.top, ca.right - ca.left, ca.bottom - ca.top);
      // ticks
      ctx.lineWidth = TICK_W;
      opt.ticks.forEach(v => {
        const len = opt.major.includes(v) ? opt.majorLen : opt.minorLen;
        ctx.beginPath(); ctx.moveTo(X(v), ca.bottom); ctx.lineTo(X(v), ca.bottom + len); ctx.stroke();
      });
      ctx.font = TICK_PX + 'px ' + FONT;
      ctx.textAlign = 'center';
      opt.tickLabels.forEach(v => ctx.fillText(String(v), X(v), ca.bottom + 94));
      ctx.restore();
    }
  };
}

function buildChart(id, spectra, xRange, padding, opt) {
  return new Chart(document.getElementById(id), {
    type: 'line',
    data: {
      datasets: spectra.map((s, i) => ({
        label: samples[i],
        data: s.map(([x, y]) => ({ x, y })),
        borderColor: '#000',
        borderWidth: LINE_W,
        borderJoinStyle: 'round',
        borderCapStyle: 'round',
        pointRadius: 0,
        fill: false,
        cubicInterpolationMode: 'monotone'
      }))
    },
    options: {
      responsive: false,
      animation: false,
      devicePixelRatio: 1,
      events: [],
      layout: { padding },
      plugins: { legend: { display: false }, tooltip: { enabled: false } },
      scales: {
        x: { type: 'linear', reverse: true, min: xRange[0], max: xRange[1], display: false },
        y: { type: 'linear', min: absRange[0], max: absRange[1], display: false }
      }
    },
    plugins: [decorPlugin(opt)]
  });
}

buildChart('ohChart', ohSpectra, ohRange,
  { left: 107, right: 1796, top: 16, bottom: 225 },
  { spectra: ohSpectra, markers: ohMarkers, bands: ohBandLabels, names: ohNameAnchors, nameAlign: 'right',
    ticks: ohTicks, major: ohMajorTicks, majorLen: 27, minorLen: 15, tickLabels: ohTickLabels });

buildChart('fpChart', fpSpectra, fpRange,
  { left: 916, right: 71, top: 16, bottom: 225 },
  { spectra: fpSpectra, brokenMarkers: fpMarkers, leaders: fpLeaders, bands: fpBandLabels, names: fpNameAnchors, nameAlign: 'left',
    ticks: fpTicks, major: fpTicks, majorLen: 24, minorLen: 24, tickLabels: fpTickLabels });
</script>
</body>
</html>
